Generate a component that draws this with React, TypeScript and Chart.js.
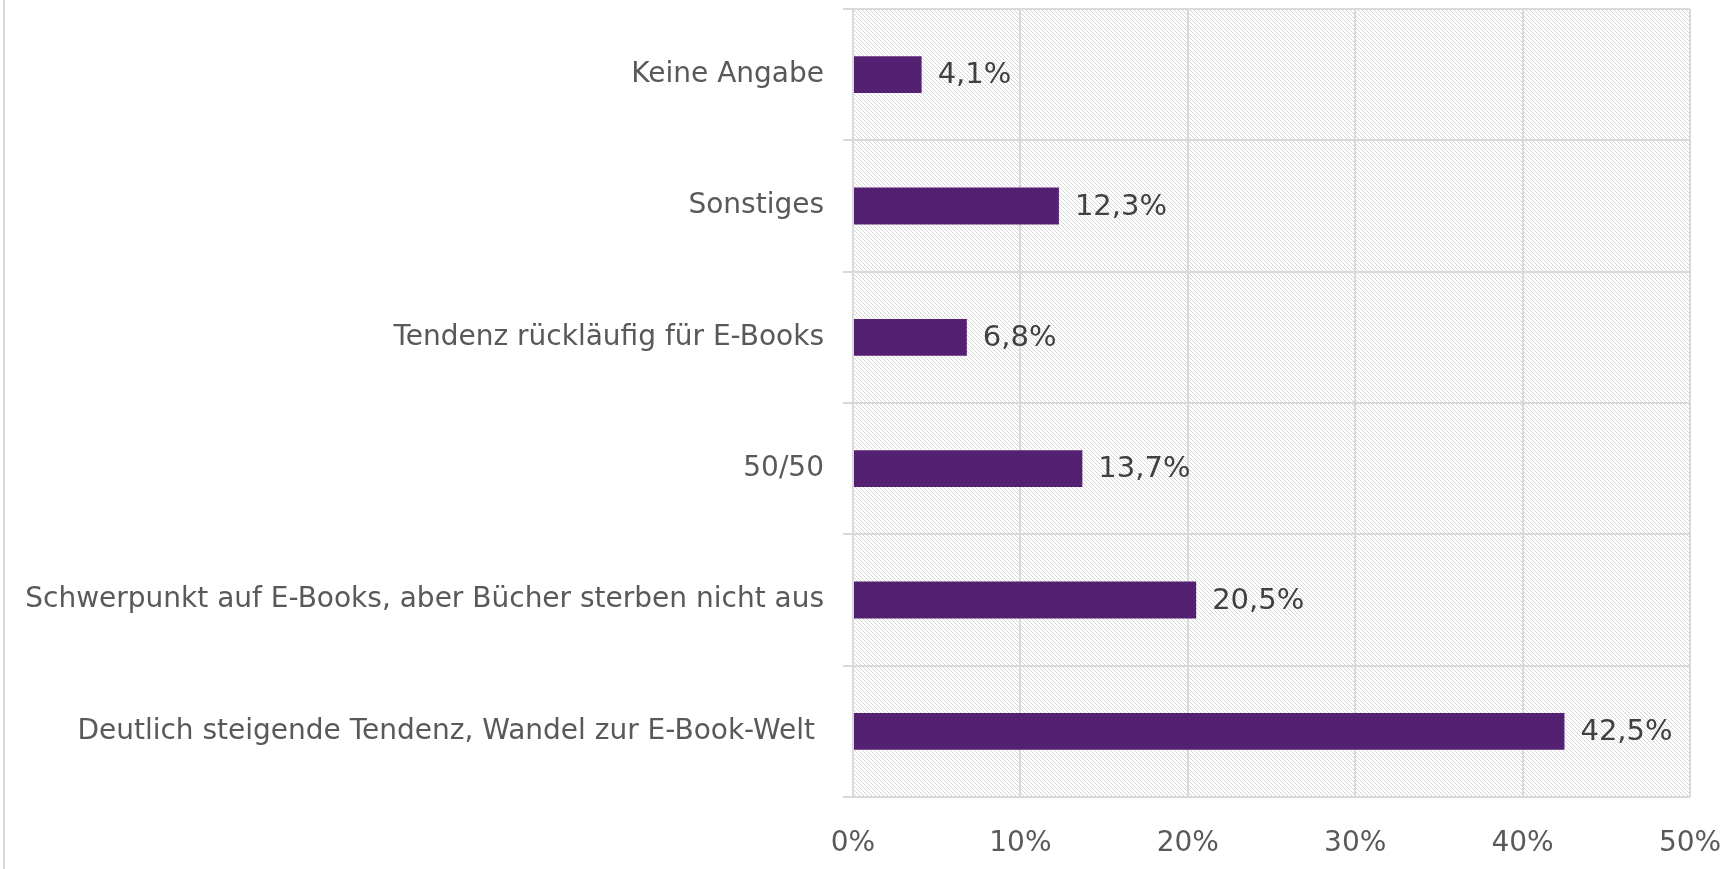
import React, { useEffect, useRef } from "react";
import { Chart, registerables } from "chart.js";

Chart.register(...registerables);

const categories = [
  "Keine Angabe",
  "Sonstiges",
  "Tendenz rückläufig für E-Books",
  "50/50",
  "Schwerpunkt auf E-Books, aber Bücher sterben nicht aus",
  "Deutlich steigende Tendenz, Wandel zur E-Book-Welt ",
];
const values = [4.1, 12.3, 6.8, 13.7, 20.5, 42.5];
const xTicks = [0, 10, 20, 30, 40, 50];

const FONT = "'DejaVu Sans', sans-serif";

function makePattern(ctx: CanvasRenderingContext2D) {
  const c = document.createElement("canvas");
  c.width = 4;
  c.height = 4;
  const p = c.getContext("2d")!;
  p.fillStyle = "#ffffff";
  p.fillRect(0, 0, 4, 4);
  p.fillStyle = "#d6d6d6";
  for (let i = 0; i < 4; i++) p.fillRect(i, i, 1, 1);
  return ctx.createPattern(c, "repeat");
}

const bgPlugin = {
  id: "bgPlugin",
  beforeDraw(chart: any) {
    const { ctx, chartArea } = chart;
    ctx.save();
    ctx.fillStyle = "#ffffff";
    ctx.fillRect(0, 0, chart.width, chart.height);
    const pat = makePattern(ctx);
    if (pat) {
      ctx.fillStyle = pat;
      ctx.fillRect(chartArea.left, chartArea.top, chartArea.right - chartArea.left, chartArea.bottom - chartArea.top);
    }
    ctx.fillStyle = "#dadada";
    ctx.fillRect(3, 0, 2, chart.height);
    ctx.restore();
  },
};

const labelPlugin = {
  id: "labelPlugin",
  afterDatasetsDraw(chart: any) {
    const { ctx } = chart;
    const meta = chart.getDatasetMeta(0);
    ctx.save();
    ctx.font = `29px ${FONT}`;
    ctx.fillStyle = "#404040";
    ctx.textAlign = "left";
    ctx.textBaseline = "middle";
    meta.data.forEach((bar: any, i: number) => {
      const txt = values[i].toFixed(1).replace(".", ",") + "%";
      ctx.fillText(txt, bar.x + 16, bar.y + 1);
    });
    ctx.restore();
  },
};

export default function App() {
  const ref = useRef<HTMLCanvasElement>(null);
  useEffect(() => {
    if (!ref.current) return;
    const chart = new Chart(ref.current, {
      type: "bar",
      data: {
        labels: categories,
        datasets: [
          {
            data: values,
            backgroundColor: "#542172",
            barPercentage: 0.28,
            categoryPercentage: 1,
          },
        ],
      },
      options: {
        indexAxis: "y",
        animation: false,
        responsive: false,
        maintainAspectRatio: false,
        layout: { padding: { top: 9, right: 41, left: 0, bottom: 0 } },
        plugins: { legend: { display: false }, tooltip: { enabled: false } },
        scales: {
          x: {
            min: 0,
            max: 50,
            afterBuildTicks: (axis: any) => {
              axis.ticks = xTicks.map((v) => ({ value: v }));
            },
            grid: { color: "#d9d9d9", lineWidth: 2, drawTicks: false },
            border: { display: false },
            ticks: {
              padding: 30,
              color: "#595959",
              font: { family: FONT, size: 28 },
              callback: (v: any) => v + "%",
            },
            afterFit: (axis: any) => {
              axis.height = 72;
              axis.paddingLeft = 0;
              axis.paddingRight = 0;
            },
          },
          y: {
            grid: { color: "#d9d9d9", lineWidth: 2, offset: true, tickLength: 10 },
            border: { display: false },
            ticks: {
              padding: 19,
              color: "#595959",
              font: { family: FONT, size: 28 },
            },
            afterFit: (axis: any) => {
              axis.width = 853;
              axis.paddingTop = 0;
              axis.paddingBottom = 0;
            },
          },
        },
      },
      plugins: [bgPlugin, labelPlugin],
    });
    return () => chart.destroy();
  }, []);
  return (
    <div style={{ position: "fixed", left: 0, top: 0, width: 1731, height: 869 }}>
      <canvas ref={ref} width={1731} height={869} style={{ width: 1731, height: 869, display: "block" }} />
    </div>
  );
}
